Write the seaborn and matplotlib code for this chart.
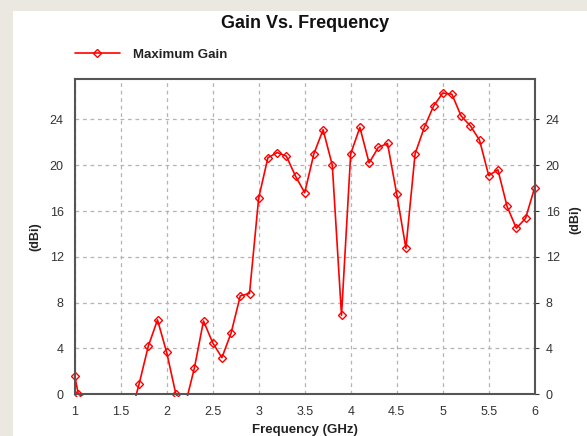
import matplotlib
matplotlib.use("Agg")
import matplotlib.pyplot as plt
import seaborn as sns
import pandas as pd
from matplotlib.patches import Rectangle

# ---- data ----
freq_ghz = [1.0, 1.04, 1.6, 1.7, 1.8, 1.9, 2.0, 2.1, 2.2, 2.3, 2.4, 2.5, 2.6, 2.7, 2.8, 2.9,
            3.0, 3.1, 3.2, 3.3, 3.4, 3.5, 3.6, 3.7, 3.8, 3.9, 4.0, 4.1, 4.2, 4.3, 4.4,
            4.5, 4.6, 4.7, 4.8, 4.9, 5.0, 5.1, 5.2, 5.3, 5.4, 5.5, 5.6, 5.7, 5.8, 5.9, 6.0]
gain_dbi = [1.6, 0.0, -2.1, 0.9, 4.2, 6.5, 3.65, 0.0, -0.97, 2.26, 6.4, 4.5, 3.2, 5.35, 8.6, 8.8,
            17.15, 20.65, 21.1, 20.8, 19.05, 17.6, 21.0, 23.1, 20.0, 6.9, 21.0, 23.3, 20.2, 21.55, 21.9,
            17.5, 12.75, 21.0, 23.3, 25.15, 26.3, 26.2, 24.3, 23.45, 22.2, 19.1, 19.6, 16.4, 14.5, 15.35, 18.05]
series_name = "Maximum Gain"
x_ticks = [1, 1.5, 2, 2.5, 3, 3.5, 4, 4.5, 5, 5.5, 6]
y_ticks = [0, 4, 8, 12, 16, 20, 24]
title = "Gain Vs. Frequency"
x_label = "Frequency (GHz)"
y_label = "(dBi)"

df = pd.DataFrame({"Frequency": freq_ghz, "Gain": gain_dbi, "Series": series_name})

sns.set_style("white")
plt.rcParams["font.family"] = ["Liberation Sans", "DejaVu Sans"]

fig = plt.figure(figsize=(5.87, 4.36), dpi=100, facecolor="#ebe7e1")
bg = Rectangle((13 / 587, 0), 1, (436 - 11) / 436, transform=fig.transFigure,
               facecolor="white", edgecolor="none", zorder=-10)
fig.add_artist(bg)
ax = fig.add_axes([74.7 / 587, (436 - 394.3) / 436, 460 / 587, (394.3 - 79.3) / 436])
ax.set_zorder(5)
ax.set_facecolor("white")

sns.lineplot(data=df, x="Frequency", y="Gain", hue="Series", palette=["#ff0000"],
             estimator=None, sort=False, marker="D", markersize=4.3,
             markerfacecolor="none", markeredgecolor="#ff0000", markeredgewidth=1.0,
             linewidth=1.2, ax=ax, zorder=3)

ax.set_xlim(1, 6)
ax.set_ylim(0, 27.5)

# let edge markers show fully, like the reference
clip = Rectangle((-0.015, -0.006), 1.03, 1.02, transform=ax.transAxes,
                 facecolor="none", edgecolor="none")
for ln in ax.lines:
    ln.set_clip_path(clip)

ax.set_xticks(x_ticks)
ax.set_xticklabels([f"{t:g}" for t in x_ticks])
ax.set_yticks(y_ticks)
ax.set_yticklabels([str(t) for t in y_ticks])
ax.grid(True, linestyle=(0, (3, 3)), color="#b4b4b4", linewidth=0.9)
for s in ax.spines.values():
    s.set_color("#555555")
    s.set_linewidth(1.5)
    s.set_visible(True)
    s.set_zorder(4)
ax.tick_params(axis="both", labelsize=9, colors="#333333", width=0.8,
               direction="out", pad=5)
ax.tick_params(axis="y", right=True, labelright=True, left=False, length=3)
ax.tick_params(axis="x", bottom=False)
ax.set_xlabel(x_label, fontsize=9.5, fontweight="bold", color="#222222", labelpad=4)
ax.set_ylabel(y_label, fontsize=9, fontweight="bold", color="#222222", labelpad=6)
fig.text(575 / 587, (436 - 220) / 436, y_label, rotation=90, ha="center", va="center",
         fontsize=9, fontweight="bold", color="#222222", zorder=6)

fig.text(304.7 / 587, (436 - 23) / 436, title, ha="center", va="center",
         fontsize=13, fontweight="bold", color="#111111", zorder=6)

leg = ax.legend(loc="center left", bbox_to_anchor=(0.0, (394.3 - 55) / 315),
                bbox_transform=ax.transAxes, frameon=False,
                handlelength=3.4, handletextpad=1.0, borderaxespad=0, borderpad=0,
                prop={"weight": "bold", "size": 9.5})
for t in leg.get_texts():
    t.set_color("#222222")

fig.savefig("out.png", dpi=100, facecolor=fig.get_facecolor())
